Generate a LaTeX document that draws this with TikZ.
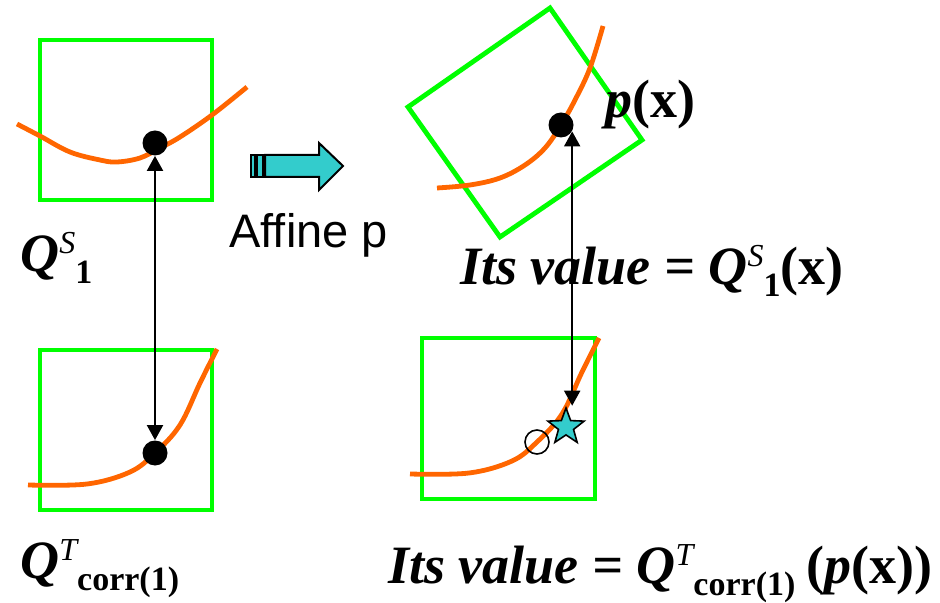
\documentclass[tikz,border=0pt]{standalone}
\usepackage{fontspec}
\setmainfont{Liberation Serif}
\newfontfamily\arialfont{Liberation Sans}
\usepackage{tikz}
\usetikzlibrary{shapes, arrows.meta, positioning, calc}
\definecolor{boxgreen}{RGB}{0, 255, 0}
\definecolor{curveorange}{RGB}{255, 102, 0}
\definecolor{aqua}{RGB}{51, 204, 204}
\newcommand{\supfont}{\fontsize{16}{16}\selectfont\mdseries\itshape}
\newcommand{\subfont}{\fontsize{17}{17}\selectfont\bfseries\upshape}
\newcommand{\Qss}[2]{Q\raisebox{9pt}{\supfont #1}\raisebox{-6pt}{\subfont #2}}
\tikzset{
  frame/.style={draw=boxgreen, line width=2.4pt},
  curve/.style={draw=curveorange, line width=2.4pt},
  dot/.style={circle, fill=black, minimum size=12.5pt, inner sep=0pt},
  link/.style={line width=1pt, {Triangle[length=7.5pt,width=8pt]}-{Triangle[length=7.5pt,width=8pt]}},
  lbl/.style={anchor=base west, inner sep=0pt, font=\fontsize{27}{31}\selectfont\bfseries\itshape}
}

\begin{document}
\begin{tikzpicture}[x=0.5pt, y=-0.5pt]
  \useasboundingbox (0,0) rectangle (940,603);

  % green windows
  \draw[frame] (40,40) rectangle (212,200);
  \draw[frame] (40,350) rectangle (212,510);
  \draw[frame] (422,338) rectangle (595,499);
  \draw[frame] (550,8) -- (642,140) -- (500,237) -- (408,107) -- cycle;

  % orange curves
  \draw[curve] plot[smooth, tension=0.6] coordinates {(17,124) (40,136) (70,152) (100,160) (117,162) (140,158) (160,148) (180,137) (212,115) (247,87)};
  \draw[curve] plot[smooth, tension=0.6] coordinates {(28,485) (87,484) (130,472) (155,453) (180,425) (200,383) (217,349)};
  \draw[curve] plot[smooth, tension=0.6] coordinates {(410,474) (469,473) (512,461) (537,442) (562,414) (582,372) (599,338)};
  \draw[curve] plot[smooth, tension=0.6] coordinates {(437,188) (470,185) (500,178) (525,165) (545,148) (561,125) (575,100) (590,68) (603,26)};

  % points
  \node[dot] (qsdot) at (155,143) {};
  \node[dot] (qtdot) at (155,453) {};
  \node[dot] (pdot) at (561,125) {};
  \node[circle, draw=black, line width=0.8pt, minimum size=12pt, inner sep=0pt] (pcirc) at (537,442) {};
  \node[star, star points=5, star point ratio=2.4, draw=black, line width=0.8pt, fill=aqua, minimum size=19pt, inner sep=0pt] (pstar) at (566,427) {};

  % correspondences
  \draw[link] (qsdot) -- (qtdot);
  \draw[link] (pdot.-30) -- (pdot.-30 |- pstar.north);

  % block arrow
  \draw[fill=aqua, line width=1pt] (251,155) rectangle (255,177);
  \draw[fill=aqua, line width=1pt] (257,155) rectangle (263,177);
  \draw[fill=aqua, line width=1pt] (265,155) -- (319,155) -- (319,143) -- (343,166) -- (319,190) -- (319,177) -- (265,177) -- cycle;

  % labels
  \node[lbl] (lblqs) at (20,272) {\Qss{S}{1}};
  \node[lbl] (lblqt) at (20,578) {\Qss{T}{corr(1)}};
  \node[anchor=base west, inner sep=0pt, font=\arialfont\fontsize{23.5}{26}\selectfont] (lblaff) at (229,248) {Affine p};
  \node[lbl] (lblpx) at (605,118) {p\textup{(x)}};
  \node[lbl] (lblval1) at (460,285) {Its value = \Qss{S}{1}\textup{(x)}};
  \node[lbl] (lblval2) at (388,583) {Its value = \Qss{T}{corr(1)}\hspace{0.2em}\textup{(}p\textup{(x))}};
\end{tikzpicture}
\end{document}
